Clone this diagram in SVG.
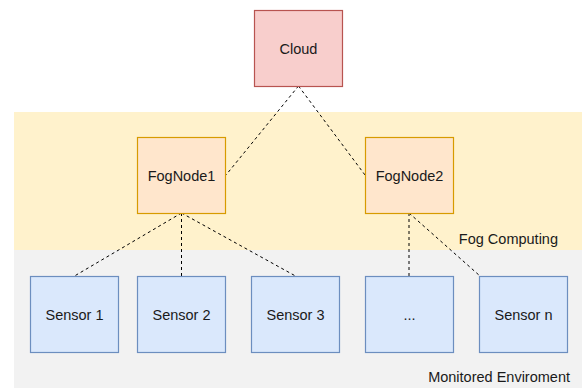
<svg xmlns="http://www.w3.org/2000/svg" width="582" height="388" viewBox="0 0 582 388">
<style>
text{font-family:"Liberation Sans",Arial,sans-serif;font-size:14.5px;fill:#1a1a1a;}
.c{text-anchor:middle;dominant-baseline:central;}
.cloud{fill:#f8cecc;stroke:#b85450;stroke-width:1.2;}
.fog{fill:#ffe6cc;stroke:#d79b00;stroke-width:1.2;}
.sen{fill:#dae8fc;stroke:#6c8ebf;stroke-width:1.2;}
.conn line{stroke:#000;stroke-width:1;stroke-dasharray:3 3;fill:none;}
</style>
<rect width="582" height="388" fill="#ffffff"/>
<g id="fog-area">
<rect x="14" y="112" width="568" height="138" fill="#fff2cc"/>
<text x="558" y="239" text-anchor="end" dominant-baseline="central">Fog Computing</text>
</g>
<g id="monitored-area">
<rect x="14" y="250" width="568" height="138" fill="#f2f2f2"/>
<text x="570" y="377" text-anchor="end" dominant-baseline="central">Monitored Enviroment</text>
</g>
<g class="conn" id="connectors">
<line x1="298.5" y1="86" x2="226" y2="175"/>
<line x1="298.5" y1="86" x2="365" y2="175"/>
<line x1="181.5" y1="213" x2="74.5" y2="276"/>
<line x1="181.5" y1="213" x2="181.5" y2="276"/>
<line x1="181.5" y1="213" x2="295.5" y2="276"/>
<line x1="409" y1="213" x2="409" y2="276"/>
<line x1="409" y1="213" x2="480" y2="276"/>
</g>
<g id="cloud">
<rect class="cloud" x="254.5" y="10.5" width="88" height="76"/>
<text class="c" x="298.5" y="48.5">Cloud</text>
</g>
<g id="fognode1">
<rect class="fog" x="137.5" y="137.5" width="88" height="76"/>
<text class="c" x="181.5" y="175.5">FogNode1</text>
</g>
<g id="fognode2">
<rect class="fog" x="365.5" y="137.5" width="88" height="76"/>
<text class="c" x="409.5" y="175.5">FogNode2</text>
</g>
<g id="sensor1">
<rect class="sen" x="30.5" y="276.5" width="88" height="76"/>
<text class="c" x="74.5" y="314.5">Sensor 1</text>
</g>
<g id="sensor2">
<rect class="sen" x="137.5" y="276.5" width="88" height="76"/>
<text class="c" x="181.5" y="314.5">Sensor 2</text>
</g>
<g id="sensor3">
<rect class="sen" x="251.5" y="276.5" width="88" height="76"/>
<text class="c" x="295.5" y="314.5">Sensor 3</text>
</g>
<g id="sensor-dots">
<rect class="sen" x="365.5" y="276.5" width="88" height="76"/>
<text class="c" x="409.5" y="314.5">...</text>
</g>
<g id="sensorn">
<rect class="sen" x="479.5" y="276.5" width="88" height="76"/>
<text class="c" x="523.5" y="314.5">Sensor n</text>
</g>
</svg>
